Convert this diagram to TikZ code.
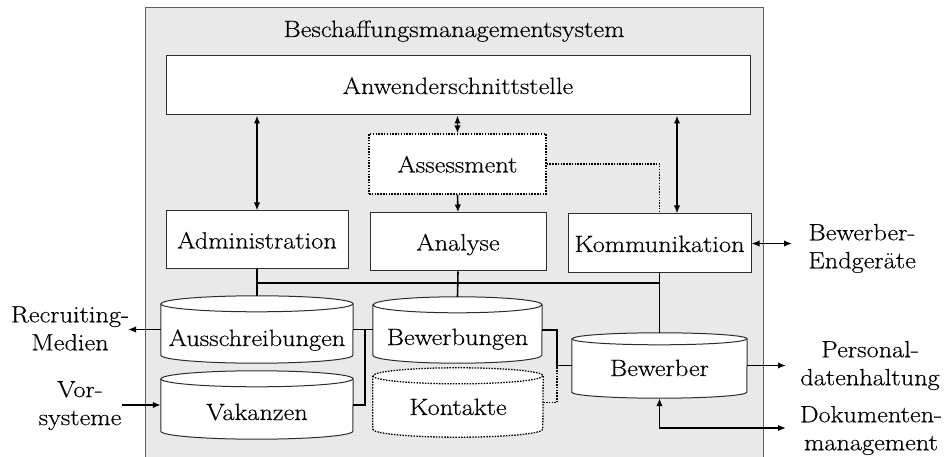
\documentclass[tikz,border=0pt]{standalone}
\usepackage{fontspec}
\setmainfont{Latin Modern Roman}[FakeStretch=1.12, FakeBold=0.35]
\usetikzlibrary{arrows.meta,calc}
\pgfdeclarelayer{bg}
\pgfdeclarelayer{mid}
\pgfsetlayers{bg,mid,main}

\definecolor{sysgray}{RGB}{233,233,233}
\definecolor{framegray}{RGB}{95,95,95}
\definecolor{edgegray}{RGB}{45,45,45}

\begin{document}
\begin{tikzpicture}[x=1pt,y=-1pt,
  font=\fontsize{23.5}{28}\selectfont,
  box/.style={draw=edgegray, line width=1pt, fill=white, inner sep=0pt,
              text height=17pt, text depth=0pt},
  dotbox/.style={box, draw=black, line width=1.3pt, dash pattern=on 1.5pt off 1.3pt},
  dbnode/.style={inner sep=0pt, text depth=0pt},
  lbl/.style={align=center, inner sep=0pt},
  link/.style={line width=1.6pt, black},
  dotline/.style={line width=1.3pt, black, dash pattern=on 1.5pt off 1.3pt},
  tip/.style={-{Latex[length=8pt,width=6.5pt]}},
  dtip/.style={{Latex[length=8pt,width=6.5pt]}-{Latex[length=8pt,width=6.5pt]}},
  cylsolid/.style={draw=edgegray, line width=1pt},
  cyldot/.style={draw=black, line width=1.3pt, dash pattern=on 1.5pt off 1.3pt}
]
\useasboundingbox (0,0) rectangle (946,457);

% system frame
\begin{pgfonlayer}{bg}
  \fill[sysgray] (145,8) rectangle (763,457);
  \draw[framegray, line width=1pt] (145,457) -- (145,8) -- (763,8) -- (763,457);
\end{pgfonlayer}

\node[text height=17pt, text depth=0pt, inner sep=0pt] (title) at (454,28.5) {Beschaffungsmanagementsystem};

% components
\node[box, minimum width=584pt, minimum height=59pt] (anw) at (458,85.5) {Anwenderschnittstelle};
\node[dotbox, minimum width=177pt, minimum height=60pt] (ass) at (457.5,164) {Assessment};
\node[box, minimum width=182pt, minimum height=58pt] (adm) at (257,240) {Administration};
\node[box, minimum width=176pt, minimum height=58pt] (ana) at (458,242) {Analyse};
\node[box, minimum width=183pt, minimum height=59pt] (kom) at (659.5,243.5) {Kommunikation};

% data stores
\node[dbnode, minimum width=192pt, minimum height=67pt, text height=33pt] (aus) at (257,329.5) {Ausschreibungen};
\node[dbnode, minimum width=192pt, minimum height=68pt, text height=30pt] (vak) at (257,405) {Vakanzen};
\node[dbnode, minimum width=169pt, minimum height=66pt, text height=30pt] (bwg) at (457.5,330) {Bewerbungen};
\node[dbnode, minimum width=170pt, minimum height=69pt, text height=25pt] (kon) at (458,402.5) {Kontakte};
\node[dbnode, minimum width=175pt, minimum height=65pt, text height=21pt] (bwr) at (659.5,365.5) {Bewerber};

\begin{pgfonlayer}{mid}
  \foreach \nm/\rx/\ry/\sty in {aus/96/8/cylsolid, vak/96/8/cylsolid, bwg/84.5/8/cylsolid,
                                 kon/85/8/cyldot, bwr/87.5/6/cylsolid} {
    \path[fill=white, \sty]
      ([yshift=-\ry pt]\nm.north west) -- ([yshift=\ry pt]\nm.south west)
      arc[start angle=180, end angle=360, x radius=\rx pt, y radius=\ry pt]
      -- ([yshift=-\ry pt]\nm.north east)
      arc[start angle=0, end angle=180, x radius=\rx pt, y radius=\ry pt] -- cycle;
    \draw[\sty] ([yshift=-\ry pt]\nm.north west)
      arc[start angle=180, end angle=360, x radius=\rx pt, y radius=\ry pt];
  }
\end{pgfonlayer}

% outside systems
\node[lbl] (rec) at (70,328.4) {Recruiting-\\Medien};
\node[lbl] (vor) at (80,405.5) {Vor-\\systeme};
\node[lbl] (bwe) at (862,248.5) {Bewerber-\\Endgeräte};
\node[lbl] (pers) at (870,365.5) {Personal-\\datenhaltung};
\node[lbl] (dok) at (871,430.5) {Dokumenten-\\management};

\coordinate (recin) at (128,329);
\coordinate (vorout) at (122,405);
\coordinate (endin) at (792,242);
\coordinate (persin) at (786,362);
\coordinate (dokin) at (786,428);
\coordinate (busy) at (0,283);

% interface links
\draw[link, dtip] (anw.south -| adm.north) -- (adm.north);
\draw[link, dtip] (anw.south -| ass.north) -- (ass.north);
\draw[link, tip] (ass.south) -- (ana.north);
\draw[link, dtip] ($(anw.south -| kom.north)+(17.5,0)$) -- ($(kom.north)+(17.5,0)$);
\draw[dotline] (ass.east) -| (kom.north);

% internal bus
\draw[link] (adm.south) -- (aus.north);
\draw[link] (ana.south) -- (bwg.north);
\draw[link] (kom.south) -- (bwr.north);
\draw[link] (adm.south |- busy) -- (kom.south |- busy);

% store connections
\draw[link] (aus.east) -- (aus.east -| bwg.west);
\draw[link] (vak.east) -| ($(aus.east)!0.6!(aus.east -| bwg.west)$);
\coordinate (jx) at ($(bwg.east)!0.5!(bwr.west)$);
\draw[link] (bwg.east) -| (jx) |- (bwr.west);
\draw[dotline] (kon.east) -| (jx |- bwr.west);

% external links
\draw[link, tip] (aus.west) -- (aus.west -| recin);
\draw[link, tip] (vak.west -| vorout) -- (vak.west);
\draw[link, dtip] (kom.east) -- (kom.east -| endin);
\draw[link, tip] (bwr.east) -- (bwr.east -| persin);
\draw[link, dtip] (bwr.south) |- (dokin);
\end{tikzpicture}
\end{document}
